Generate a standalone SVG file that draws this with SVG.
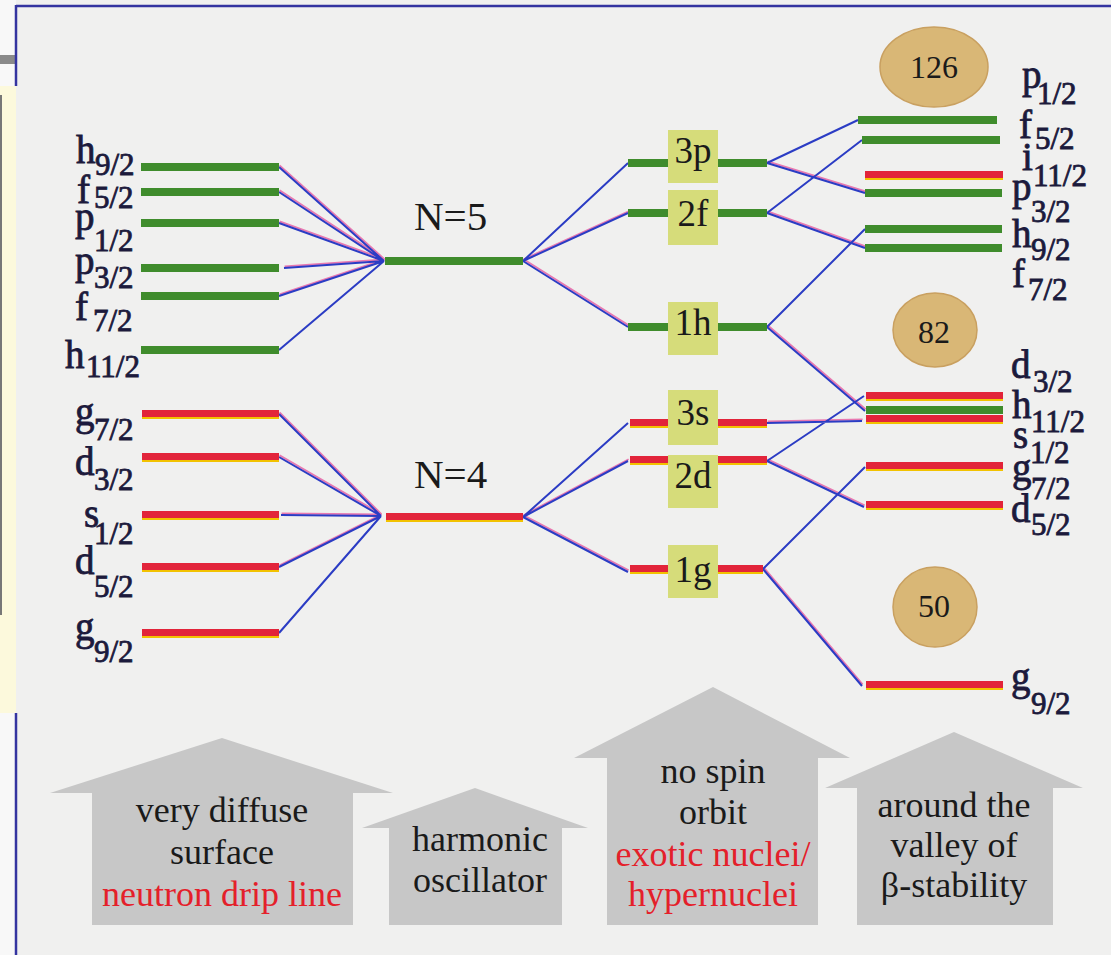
<svg xmlns="http://www.w3.org/2000/svg" width="1111" height="955" viewBox="0 0 1111 955">
<defs>
<style>
.lbl{font-family:"Liberation Serif","Times New Roman",serif;fill:#1c1a3c;stroke:#1c1a3c;stroke-width:0.8}
.m{font-size:39px}
.s{font-size:31px}
.big{font-family:"Liberation Serif","Times New Roman",serif;font-size:41px;fill:#1a1a1a}
.box{fill:#d6dc7a}
.boxt{font-family:"Liberation Serif","Times New Roman",serif;font-size:37px;fill:#1a1a1a;text-anchor:middle}
.g{fill:#3f8c2c}
.r{fill:#e2243a}
.y{fill:#f2c200}
.magic{fill:#d9b776;stroke:#c9a060;stroke-width:1.5}
.magt{font-family:"Liberation Serif","Times New Roman",serif;font-size:32px;fill:#1a1a1a;text-anchor:middle}
.arrow{fill:#c7c7c7}
.at{font-family:"Liberation Serif","Times New Roman",serif;font-size:36px;fill:#1a1a1a;text-anchor:middle}
.red{fill:#e4202a}
.cb{stroke:#2b3cc4;stroke-width:2;fill:none}
.cp{stroke:#e878b0;stroke-width:1.8;fill:none}
</style>
</defs>
<rect x="0" y="0" width="1111" height="955" fill="#f0f0ef"/>
<rect x="0" y="0" width="16" height="955" fill="#f8f8f8"/>
<rect x="0" y="86" width="16" height="627" fill="#fcf9dc"/>
<rect x="0" y="55" width="16" height="9" fill="#8a8a8a"/>
<line x1="1" y1="95" x2="1" y2="615" stroke="#777" stroke-width="2"/>
<line x1="16" y1="6" x2="1111" y2="6" stroke="#3434a0" stroke-width="2.5"/>
<line x1="16" y1="5" x2="16" y2="86" stroke="#3434a0" stroke-width="2.5"/>
<line x1="16" y1="713" x2="16" y2="955" stroke="#3434a0" stroke-width="2.5"/>

<!-- bottom arrows -->
<g id="arrow-diffuse">
<polygon class="arrow" points="222,738 393,793 353,793 353,925 92,925 92,793 50,793"/>
<text class="at" x="222" y="822">very diffuse</text>
<text class="at" x="222" y="864">surface</text>
<text class="at red" x="222" y="906">neutron drip line</text>
</g>
<g id="arrow-harmonic">
<polygon class="arrow" points="475,788 588,828 562,828 562,925 389,925 389,828 362,828"/>
<text class="at" x="480" y="851">harmonic</text>
<text class="at" x="480" y="892">oscillator</text>
</g>
<g id="arrow-nospin">
<polygon class="arrow" points="713,687 850,758 818,758 818,925 607,925 607,758 574,758"/>
<text class="at" x="713" y="783">no spin</text>
<text class="at" x="713" y="824">orbit</text>
<text class="at red" x="713" y="866">exotic nuclei/</text>
<text class="at red" x="713" y="906">hypernuclei</text>
</g>
<g id="arrow-valley">
<polygon class="arrow" points="954,732 1083,788 1053,788 1053,925 857,925 857,788 825,788"/>
<text class="at" x="954" y="817">around the</text>
<text class="at" x="954" y="857">valley of</text>
<text class="at" x="954" y="897">β-stability</text>
</g>

<!-- connectors -->
<g id="connectors">
<g transform="translate(0.6,-1.7)" class="cp">
<path d="M279,167L384,261M279,192L384,261M279,223L384,261M284,268L384,261M279,296L384,261"/>
<path d="M279,414L381,516M279,457L381,516M281,515L381,516M279,567L381,516"/>
<path d="M523,261L628,213M523,261L628,327"/>
<path d="M523,517L628,461M523,517L628,572"/>
<path d="M767,163L865,193M767,213L865,248M767,327L865,411M767,423L862,421M767,461L864,507M763,569L862,686"/>
</g>
<path class="cb" d="M279,167L384,261M279,192L384,261M279,223L384,261M284,268L384,261M279,296L384,261M279,350L384,261"/>
<path class="cb" d="M279,414L381,516M279,457L381,516M281,515L381,516M279,567L381,516M279,633L381,516"/>
<path class="cb" d="M523,261L628,163M523,261L628,213M523,261L628,327"/>
<path class="cb" d="M523,517L628,423M523,517L628,461M523,517L628,572"/>
<path class="cb" d="M767,163L858,120M767,163L865,193M767,213L862,140M767,213L865,248M767,327L865,229M767,327L865,411"/>
<path class="cb" d="M767,423L862,421M767,461L864,396M767,461L864,507M763,569L865,467M763,569L862,686"/>
</g>

<!-- left N=5 levels -->
<g id="L-h9-2"><rect class="g" x="141" y="163" width="138" height="8"/><text class="lbl"><tspan class="m" x="76" y="163">h</tspan><tspan class="s" x="95" y="175">9/2</tspan></text></g>
<g id="L-f5-2"><rect class="g" x="141" y="188" width="138" height="8"/><text class="lbl"><tspan class="m" x="77" y="203">f</tspan><tspan class="s" x="94" y="208">5/2</tspan></text></g>
<g id="L-p1-2"><rect class="g" x="141" y="219" width="138" height="8"/><text class="lbl"><tspan class="m" x="75" y="230">p</tspan><tspan class="s" x="94" y="251">1/2</tspan></text></g>
<g id="L-p3-2"><rect class="g" x="141" y="264" width="138" height="8"/><text class="lbl"><tspan class="m" x="75" y="274">p</tspan><tspan class="s" x="94" y="288">3/2</tspan></text></g>
<g id="L-f7-2"><rect class="g" x="141" y="292" width="138" height="8"/><text class="lbl"><tspan class="m" x="75" y="320">f</tspan><tspan class="s" x="93" y="331">7/2</tspan></text></g>
<g id="L-h11-2"><rect class="g" x="141" y="346" width="138" height="8"/><text class="lbl"><tspan class="m" x="65" y="368">h</tspan><tspan class="s" x="86" y="377">11/2</tspan></text></g>

<!-- left N=4 levels -->
<g id="L-g7-2"><rect class="r" x="142" y="410" width="137" height="7"/><rect class="y" x="142" y="417" width="137" height="2"/><text class="lbl"><tspan class="m" x="75" y="425">g</tspan><tspan class="s" x="94" y="440">7/2</tspan></text></g>
<g id="L-d3-2"><rect class="r" x="142" y="453" width="137" height="7"/><rect class="y" x="142" y="460" width="137" height="2"/><text class="lbl"><tspan class="m" x="75" y="475">d</tspan><tspan class="s" x="94" y="490">3/2</tspan></text></g>
<g id="L-s1-2"><rect class="r" x="142" y="511" width="137" height="7"/><rect class="y" x="142" y="518" width="137" height="2"/><text class="lbl"><tspan class="m" x="84" y="527">s</tspan><tspan class="s" x="94" y="544">1/2</tspan></text></g>
<g id="L-d5-2"><rect class="r" x="142" y="563" width="137" height="7"/><rect class="y" x="142" y="570" width="137" height="2"/><text class="lbl"><tspan class="m" x="75" y="574">d</tspan><tspan class="s" x="94" y="597">5/2</tspan></text></g>
<g id="L-g9-2"><rect class="r" x="142" y="629" width="137" height="7"/><rect class="y" x="142" y="636" width="137" height="2"/><text class="lbl"><tspan class="m" x="75" y="640">g</tspan><tspan class="s" x="94" y="662">9/2</tspan></text></g>

<!-- harmonic oscillator shells -->
<g id="N5"><rect class="g" x="385" y="257" width="138" height="8"/><text class="big" x="414" y="230">N=5</text></g>
<g id="N4"><rect class="r" x="386" y="513" width="137" height="7"/><rect class="y" x="386" y="520" width="137" height="2"/><text class="big" x="414" y="488">N=4</text></g>

<!-- no spin-orbit levels -->
<g id="M-3p"><rect class="g" x="628" y="159" width="139" height="8"/><rect class="box" x="668" y="130" width="50" height="53"/><text class="boxt" x="693" y="163">3p</text></g>
<g id="M-2f"><rect class="g" x="628" y="209" width="139" height="8"/><rect class="box" x="668" y="190" width="50" height="55"/><text class="boxt" x="693" y="226">2f</text></g>
<g id="M-1h"><rect class="g" x="628" y="323" width="139" height="8"/><rect class="box" x="668" y="302" width="50" height="53"/><text class="boxt" x="693" y="335">1h</text></g>
<g id="M-3s"><rect class="r" x="630" y="419" width="137" height="7"/><rect class="y" x="630" y="426" width="137" height="2"/><rect class="box" x="668" y="390" width="50" height="55"/><text class="boxt" x="693" y="425">3s</text></g>
<g id="M-2d"><rect class="r" x="630" y="456" width="137" height="7"/><rect class="y" x="630" y="463" width="137" height="2"/><rect class="box" x="668" y="455" width="50" height="53"/><text class="boxt" x="693" y="488">2d</text></g>
<g id="M-1g"><rect class="r" x="630" y="565" width="133" height="7"/><rect class="y" x="630" y="572" width="133" height="2"/><rect class="box" x="668" y="545" width="50" height="53"/><text class="boxt" x="693" y="582">1g</text></g>

<!-- magic numbers -->
<g id="magic-126"><ellipse class="magic" cx="934" cy="67" rx="54" ry="40"/><text class="magt" x="934" y="78">126</text></g>
<g id="magic-82"><ellipse class="magic" cx="935" cy="330" rx="42" ry="37"/><text class="magt" x="934" y="343">82</text></g>
<g id="magic-50"><ellipse class="magic" cx="935" cy="607" rx="42" ry="40"/><text class="magt" x="934" y="617">50</text></g>

<!-- right levels -->
<g id="R-p1-2"><rect class="g" x="858" y="116" width="139" height="8"/><text class="lbl"><tspan class="m" x="1022" y="88">p</tspan><tspan class="s" x="1037" y="104">1/2</tspan></text></g>
<g id="R-f5-2"><rect class="g" x="862" y="136" width="138" height="8"/><text class="lbl"><tspan class="m" x="1019" y="138">f</tspan><tspan class="s" x="1035" y="149">5/2</tspan></text></g>
<g id="R-i11-2"><rect class="r" x="865" y="171" width="138" height="7"/><rect class="y" x="865" y="178" width="138" height="2"/><text class="lbl"><tspan class="m" x="1022" y="170">i</tspan><tspan class="s" x="1033" y="186">11/2</tspan></text></g>
<g id="R-p3-2"><rect class="g" x="865" y="189" width="137" height="8"/><text class="lbl"><tspan class="m" x="1012" y="200">p</tspan><tspan class="s" x="1031" y="222">3/2</tspan></text></g>
<g id="R-h9-2"><rect class="g" x="865" y="225" width="137" height="8"/><text class="lbl"><tspan class="m" x="1012" y="247">h</tspan><tspan class="s" x="1031" y="260">9/2</tspan></text></g>
<g id="R-f7-2"><rect class="g" x="865" y="244" width="137" height="8"/><text class="lbl"><tspan class="m" x="1012" y="287">f</tspan><tspan class="s" x="1028" y="300">7/2</tspan></text></g>
<g id="R-d3-2"><rect class="r" x="866" y="392" width="137" height="7"/><rect class="y" x="866" y="399" width="137" height="2"/><text class="lbl"><tspan class="m" x="1011" y="378">d</tspan><tspan class="s" x="1033" y="392">3/2</tspan></text></g>
<g id="R-h11-2"><rect class="g" x="866" y="406" width="137" height="8"/><text class="lbl"><tspan class="m" x="1012" y="418">h</tspan><tspan class="s" x="1031" y="432">11/2</tspan></text></g>
<g id="R-s1-2"><rect class="r" x="866" y="415" width="137" height="7"/><rect class="y" x="866" y="422" width="137" height="2"/><text class="lbl"><tspan class="m" x="1013" y="448">s</tspan><tspan class="s" x="1030" y="463">1/2</tspan></text></g>
<g id="R-g7-2"><rect class="r" x="866" y="462" width="137" height="7"/><rect class="y" x="866" y="469" width="137" height="2"/><text class="lbl"><tspan class="m" x="1012" y="481">g</tspan><tspan class="s" x="1031" y="499">7/2</tspan></text></g>
<g id="R-d5-2"><rect class="r" x="866" y="501" width="137" height="7"/><rect class="y" x="866" y="508" width="137" height="2"/><text class="lbl"><tspan class="m" x="1011" y="522">d</tspan><tspan class="s" x="1031" y="535">5/2</tspan></text></g>
<g id="R-g9-2"><rect class="r" x="866" y="681" width="137" height="7"/><rect class="y" x="866" y="688" width="137" height="2"/><text class="lbl"><tspan class="m" x="1011" y="690">g</tspan><tspan class="s" x="1031" y="714">9/2</tspan></text></g>
</svg>
